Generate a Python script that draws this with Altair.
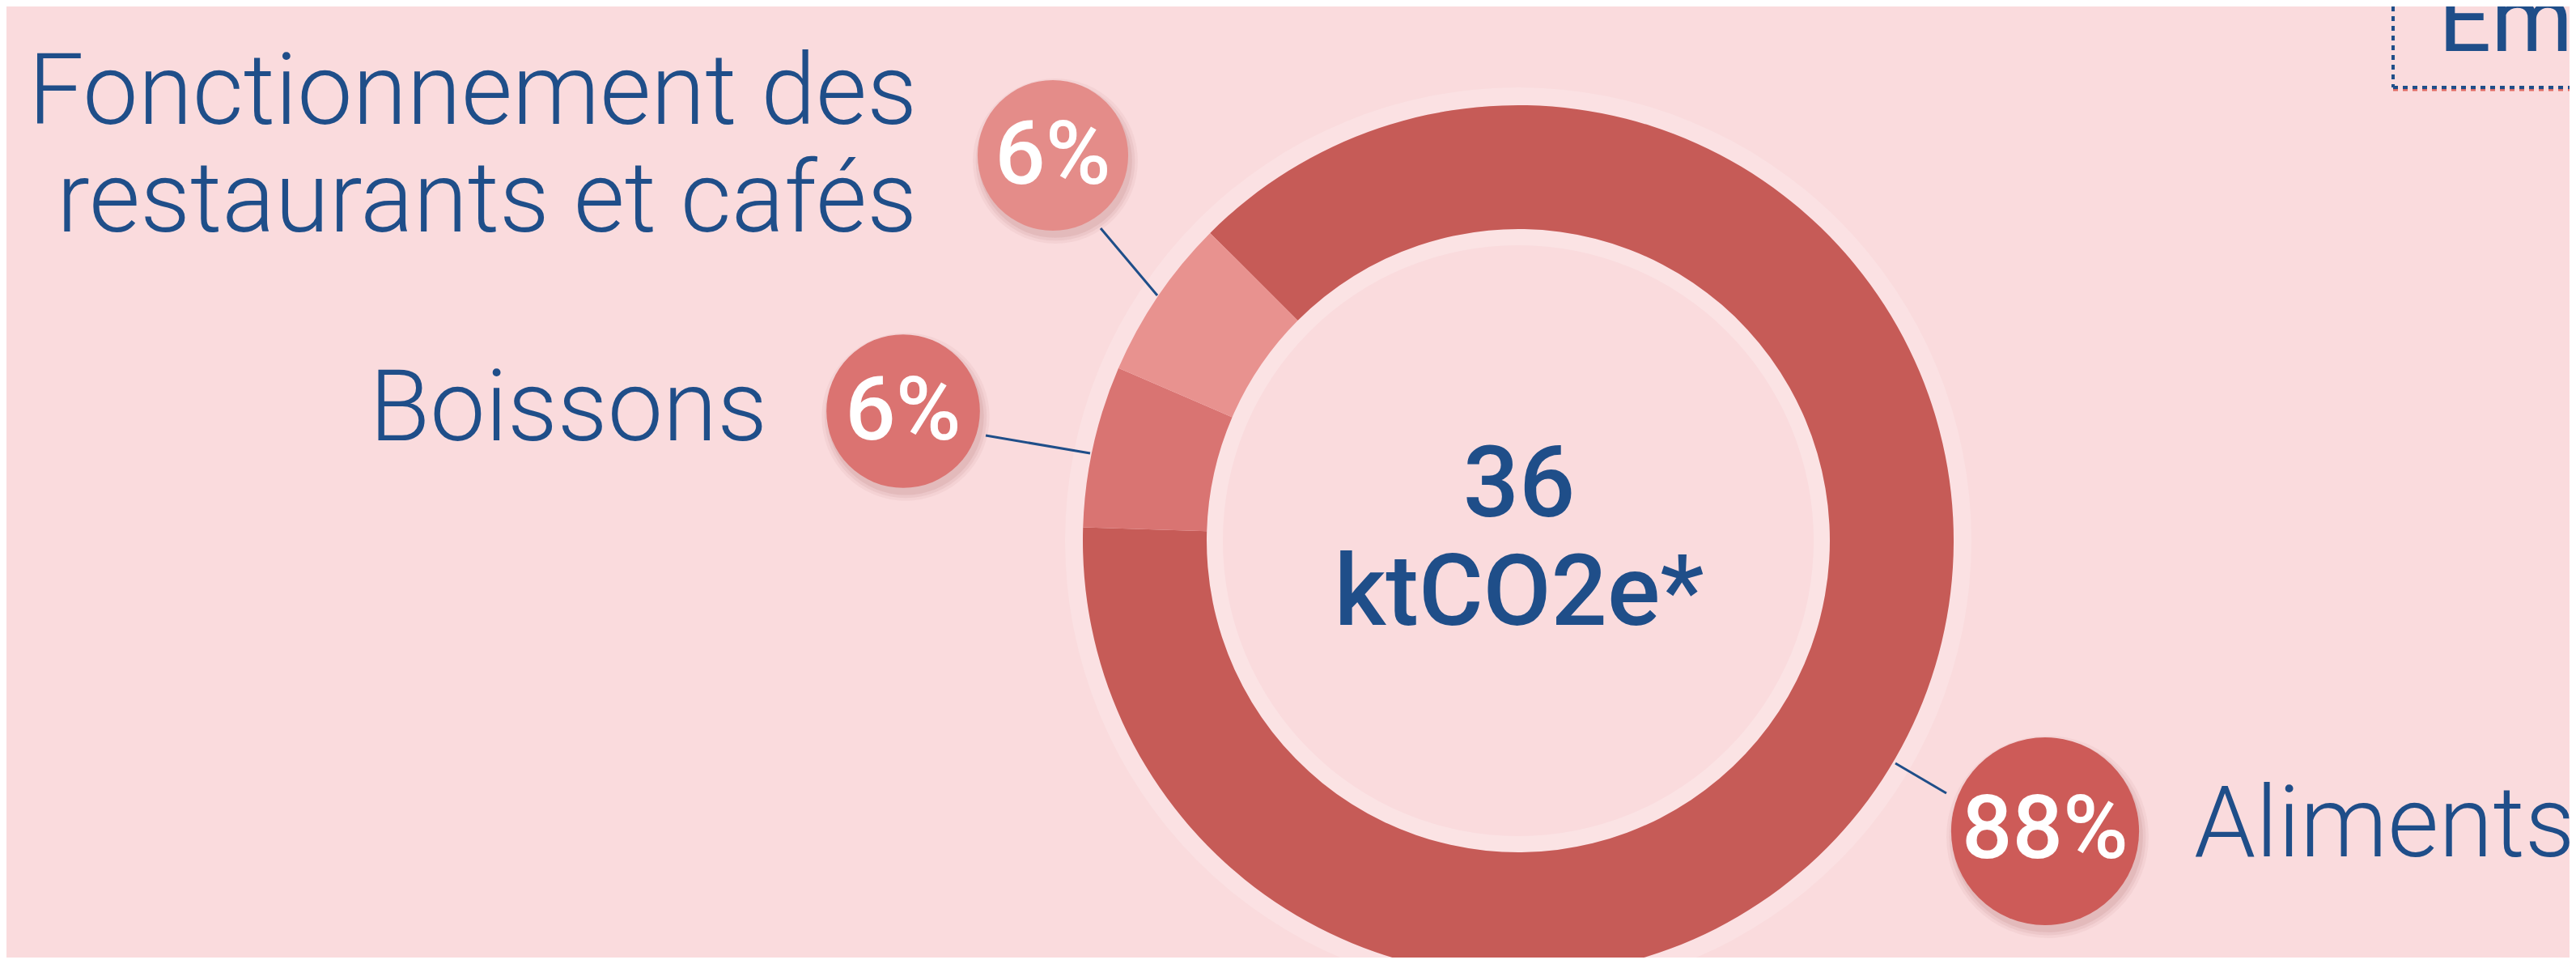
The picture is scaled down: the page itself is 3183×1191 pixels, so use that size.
import math
import altair as alt
import pandas as pd

# ---------------- data ----------------
categories = ["Aliments", "Boissons", "Fonctionnement des restaurants et cafés"]
shares = [88, 6, 6]
pct_labels = ["88%", "6%", "6%"]
label_texts = ["Aliments", "Boissons", "Fonctionnement des\nrestaurants et cafés"]
total_value = "36"
total_unit = "ktCO2e*"
title_fragment = "Em"

# ---------------- layout / style ----------------
W, H = 3167, 1175
M = 8  # page margin: image coords -> view coords

BG = "#FADBDD"
NAVY = "#1F4E89"
RING_COLORS = ["#C65B57", "#D97472", "#E8928F"]
BUBBLE_COLORS = ["#CD5B58", "#DB7371", "#E48C89"]

CX, CY = 1876 - M, 668 - M
R_OUT, R_IN = 538, 385
START = math.radians(314.95)

# positions in image pixels, per category
LAYOUT = {
    "Aliments": dict(bx=2527, by=1027, br=131, ty=1060, lx=2711, ly=1058,
                     x1=2342, y1=943, x2=2405, y2=980),
    "Boissons": dict(bx=1116, by=508, br=107, ty=543, lx=948, ly=544,
                     x1=1347, y1=560, x2=1218, y2=538),
    "Fonctionnement des restaurants et cafés": dict(bx=1301, by=192, br=105, ty=227, lx=1133, ly=153,
                     x1=1430, y1=365, x2=1360, y2=282),
}

ring_df = pd.DataFrame({"cat": categories, "share": shares, "ord": [0, 1, 2]})

rows = []
for c, p, lab, bc in zip(categories, pct_labels, label_texts, BUBBLE_COLORS):
    L = LAYOUT[c]
    rows.append(dict(cat=c, pct=p, label=lab, col=bc, br=L["br"],
                     bx=L["bx"] - M, by=L["by"] - M, size=math.pi * L["br"] ** 2,
                     ty=L["ty"] - M, lx=L["lx"] - M, ly=L["ly"] - M,
                     x1=L["x1"] - M, y1=L["y1"] - M, x2=L["x2"] - M, y2=L["y2"] - M))
ann = pd.DataFrame(rows)

noscale = dict(scale=None, axis=None)
one = pd.DataFrame({"k": [0]})

# soft glow around the ring
glows = [
    alt.Chart(one).mark_arc(radius=R_OUT + 22, radius2=R_OUT, color="white", opacity=0.18).encode(
        theta=alt.value(0), theta2=alt.value(2 * math.pi), x=alt.value(CX), y=alt.value(CY)),
    alt.Chart(one).mark_arc(radius=R_IN, radius2=R_IN - 20, color="white", opacity=0.22).encode(
        theta=alt.value(0), theta2=alt.value(2 * math.pi), x=alt.value(CX), y=alt.value(CY)),
]

ring = alt.Chart(ring_df).mark_arc(radius=R_OUT, radius2=R_IN).encode(
    theta=alt.Theta("share:Q", stack=True, scale=alt.Scale(range=[START, START + 2 * math.pi])),
    order=alt.Order("ord:Q"),
    color=alt.Color("cat:N", scale=alt.Scale(domain=categories, range=RING_COLORS), legend=None),
    x=alt.value(CX), y=alt.value(CY),
)

leaders = alt.Chart(ann).mark_rule(color=NAVY, strokeWidth=3).encode(
    x=alt.X("x1:Q", **noscale), y=alt.Y("y1:Q", **noscale),
    x2="x2:Q", y2="y2:Q",
)

shadow_layers = []
for grow, op in [(10, 0.05), (6, 0.07), (2, 0.09)]:
    shadow_layers.append(
        alt.Chart(ann).transform_calculate(
            sx="datum.bx + 3", sy="datum.by + 7",
            ss=f"PI * (datum.br + {grow}) * (datum.br + {grow})",
        ).mark_circle(opacity=op, color="#8E3535").encode(
            x=alt.X("sx:Q", **noscale), y=alt.Y("sy:Q", **noscale),
            size=alt.Size("ss:Q", scale=None, legend=None),
        )
    )

bubbles = alt.Chart(ann).mark_circle(opacity=1).encode(
    x=alt.X("bx:Q", **noscale), y=alt.Y("by:Q", **noscale),
    size=alt.Size("size:Q", scale=None, legend=None),
    color=alt.Color("col:N", scale=None, legend=None),
)

pct_text = alt.Chart(ann).mark_text(
    font="Roboto", fontSize=110, fontWeight=500, color="white", align="center", baseline="alphabetic"
).encode(x=alt.X("bx:Q", **noscale), y=alt.Y("ty:Q", **noscale), text="pct:N")

labels_right = alt.Chart(ann).transform_filter(alt.datum.cat != "Aliments").mark_text(
    font="Roboto", fontSize=122, fontWeight=300, color=NAVY, align="right", baseline="alphabetic",
    lineBreak="\n", lineHeight=133,
).encode(x=alt.X("lx:Q", **noscale), y=alt.Y("ly:Q", **noscale), text="label:N")

labels_left = alt.Chart(ann).transform_filter(alt.datum.cat == "Aliments").mark_text(
    font="Roboto", fontSize=122, fontWeight=300, color=NAVY, align="left", baseline="alphabetic",
).encode(x=alt.X("lx:Q", **noscale), y=alt.Y("ly:Q", **noscale), text="label:N")

center_df = pd.DataFrame({"t": [total_value + "\n" + total_unit]})
center = alt.Chart(center_df).mark_text(
    font="Roboto", fontSize=122, fontWeight=500, color=NAVY, align="center", baseline="alphabetic",
    lineBreak="\n", lineHeight=134,
).encode(x=alt.value(1877 - M), y=alt.value(638 - M), text="t:N")

title_df = pd.DataFrame({"t": [title_fragment]})
title = alt.Chart(title_df).mark_text(
    font="Roboto", fontSize=115, fontWeight=400, color=NAVY, align="left", baseline="alphabetic",
).encode(x=alt.value(3013 - M), y=alt.value(63 - M), text="t:N")

box_v = alt.Chart(title_df).mark_rule(color=NAVY, strokeWidth=4, strokeDash=[6, 6]).encode(
    x=alt.value(2957 - M), y=alt.value(0), y2=alt.value(108 - M))
box_h_shadow = alt.Chart(title_df).mark_rule(color="#E06A62", strokeWidth=3, strokeDash=[6, 6]).encode(
    x=alt.value(2957 - M), x2=alt.value(W), y=alt.value(111 - M))
box_h = alt.Chart(title_df).mark_rule(color=NAVY, strokeWidth=4, strokeDash=[6, 6]).encode(
    x=alt.value(2957 - M), x2=alt.value(W), y=alt.value(108 - M))

chart = alt.layer(
    *glows, ring, leaders, *shadow_layers, bubbles, pct_text, labels_right, labels_left, center,
    box_h_shadow, box_h, box_v, title,
).properties(
    width=W, height=H, background=BG, padding=0,
    autosize=alt.AutoSizeParams(type="none"),
).configure_view(stroke=None)

chart.save("out.html", embed_options={"renderer": "svg", "actions": False})
